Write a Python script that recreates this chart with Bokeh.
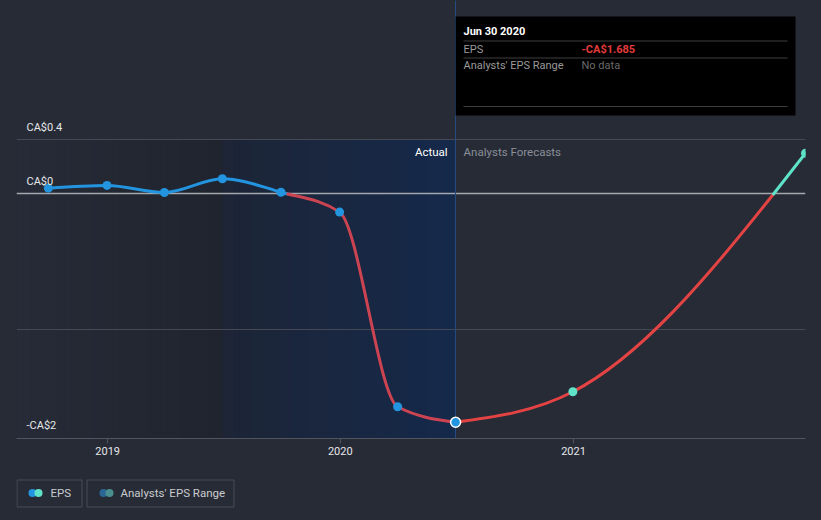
import numpy as np
import pandas as pd
from bokeh.plotting import figure
from bokeh.layouts import column
from bokeh.models import ColumnDataSource, FixedTicker, DatetimeTickFormatter, Range1d
from bokeh.core.properties import value
from bokeh.embed import file_html
from bokeh.resources import INLINE

# ---------------- data ----------------
actual_dates = ["2018-09-30", "2018-12-31", "2019-03-31", "2019-06-30",
                "2019-09-30", "2019-12-31", "2020-03-31", "2020-06-30"]
actual_eps = [0.043, 0.063, 0.011, 0.112, 0.013, -0.134, -1.571, -1.685]

forecast_dates = ["2020-06-30", "2020-12-31", "2021-12-31"]
forecast_eps = [-1.685, -1.460, 0.301]

y_label_values = [0.4, 0.0, -1.8]
y_label_texts = ["CA$0.4", "CA$0", "-CA$2"]
y_grid_values = [0.4, -1.0]

x_tick_dates = ["2019-01-01", "2020-01-01", "2021-01-01"]

tooltip_date = "Jun 30 2020"
tooltip_eps = "-CA$1.685"
legend_labels = ["EPS", "Analysts' EPS Range"]

# ---------------- style ----------------
BG = "#272b36"
BLUE = "#2394df"
TEAL = "#5fe3c8"
RED_PAST = "#cc4452"
RED_FC = "#e44343"
FONT = value("Roboto")


def to_ms(d):
    return pd.Timestamp(d).value / 1e6


X0, X1 = to_ms("2018-08-11"), to_ms("2021-12-31")
Y0, Y1 = -1.805, 1.428
FRAME_W, FRAME_H, LEFT = 789, 438, 16


def px_x(px):
    return X0 + (px - LEFT) / FRAME_W * (X1 - X0)


def px_y(py):
    return Y1 - py / FRAME_H * (Y1 - Y0)


def lerp_color(c1, c2, f):
    a = [int(c1[i:i + 2], 16) for i in (1, 3, 5)]
    b = [int(c2[i:i + 2], 16) for i in (1, 3, 5)]
    return "#%02x%02x%02x" % tuple(int(round(a[k] + (b[k] - a[k]) * f)) for k in range(3))


def strips(xa, xb, c1, c2, n):
    # overlapping strips (each reaches the region end) drawn left to right: no seams
    edges = np.linspace(xa, xb, n + 1)
    cols = [lerp_color(c1, c2, (i + 0.5) / n) for i in range(n)]
    return list(edges[:-1]), [xb] * n, cols


def monotone_segments(xs, ys):
    xs = np.asarray(xs, float)
    ys = np.asarray(ys, float)
    n = len(xs)
    h = np.diff(xs)
    s = np.diff(ys) / h
    t = np.zeros(n)
    for i in range(1, n - 1):
        p_ = (s[i - 1] * h[i] + s[i] * h[i - 1]) / (h[i - 1] + h[i])
        t[i] = (np.sign(s[i - 1]) + np.sign(s[i])) * min(abs(s[i - 1]), abs(s[i]), 0.5 * abs(p_))
    t[0] = (3 * s[0] - t[1]) / 2
    t[-1] = (3 * s[-1] - t[-2]) / 2
    segs = []
    for i in range(n - 1):
        dx = h[i] / 3
        segs.append([(xs[i], ys[i]), (xs[i] + dx, ys[i] + dx * t[i]),
                     (xs[i + 1] - dx, ys[i + 1] - dx * t[i + 1]), (xs[i + 1], ys[i + 1])])
    return segs


def bez_y(P, t):
    return ((1 - t) ** 3 * P[0][1] + 3 * (1 - t) ** 2 * t * P[1][1]
            + 3 * (1 - t) * t ** 2 * P[2][1] + t ** 3 * P[3][1])


def split(P, t):
    def lerp(a, b):
        return (a[0] + (b[0] - a[0]) * t, a[1] + (b[1] - a[1]) * t)
    p01, p12, p23 = lerp(P[0], P[1]), lerp(P[1], P[2]), lerp(P[2], P[3])
    p012, p123 = lerp(p01, p12), lerp(p12, p23)
    m = lerp(p012, p123)
    return [P[0], p01, p012, m], [m, p123, p23, P[3]]


def split_at_zero(P):
    ts = np.linspace(0, 1, 401)
    ys = [bez_y(P, t) for t in ts]
    roots = []
    for k in range(400):
        if ys[k] * ys[k + 1] < 0:
            lo, hi = ts[k], ts[k + 1]
            for _ in range(60):
                mid = (lo + hi) / 2
                if bez_y(P, lo) * bez_y(P, mid) <= 0:
                    hi = mid
                else:
                    lo = mid
            roots.append((lo + hi) / 2)
    pieces, rest, prev = [], P, 0.0
    for r in roots:
        u = (r - prev) / (1 - prev)
        a, rest = split(rest, u)
        pieces.append(a)
        prev = r
    pieces.append(rest)
    return pieces


def bezier_source(xs, ys, pos_color, neg_color):
    d = dict(x0=[], y0=[], x1=[], y1=[], cx0=[], cy0=[], cx1=[], cy1=[], color=[])
    for seg in monotone_segments(xs, ys):
        for pc in split_at_zero(seg):
            d["x0"].append(pc[0][0]); d["y0"].append(pc[0][1])
            d["cx0"].append(pc[1][0]); d["cy0"].append(pc[1][1])
            d["cx1"].append(pc[2][0]); d["cy1"].append(pc[2][1])
            d["x1"].append(pc[3][0]); d["y1"].append(pc[3][1])
            d["color"].append(pos_color if bez_y(pc, 0.5) >= 0 else neg_color)
    return ColumnDataSource(d)


ax = [to_ms(d) for d in actual_dates]
fx = [to_ms(d) for d in forecast_dates]
split_past = to_ms("2019-06-30")
now = to_ms("2020-06-30")

# ---------------- main figure ----------------
p = figure(width=821, height=470, x_axis_type="datetime", y_axis_location=None,
           x_range=Range1d(X0, X1), y_range=Range1d(Y0, Y1),
           output_backend="svg", toolbar_location=None,
           min_border_left=16, min_border_right=16, min_border_top=0, min_border_bottom=32,
           background_fill_color=None, border_fill_color=None, outline_line_color=None)
p.grid.visible = False

# shaded regions (horizontal gradients approximated by strips)
l1, r1, c1 = strips(X0, split_past, "#262b37", "#20242e", 30)
p.quad(left=l1, right=r1, top=0.4, bottom=Y0, fill_color=c1, line_color=None)
l2, r2, c2 = strips(split_past, now, "#1d2536", "#15294b", 40)
p.quad(left=l2, right=r2, top=0.4, bottom=Y0, fill_color=c2, line_color=None)

# grid lines, zero line, "now" line
p.hspan(y=y_grid_values, line_color="#444955", line_width=1)
p.hspan(y=[0.0], line_color="#a4a7ad", line_width=1.5)
p.vspan(x=[now], line_color="#244a80", line_width=1)

# lines
p.bezier(x0="x0", y0="y0", x1="x1", y1="y1", cx0="cx0", cy0="cy0", cx1="cx1", cy1="cy1",
         line_color="color", line_width=3, line_cap="round",
         source=bezier_source(ax, actual_eps, BLUE, RED_PAST))
p.bezier(x0="x0", y0="y0", x1="x1", y1="y1", cx0="cx0", cy0="cy0", cx1="cx1", cy1="cy1",
         line_color="color", line_width=3, line_cap="round",
         source=bezier_source(fx, forecast_eps, TEAL, RED_FC))

# markers
p.scatter(x=fx[1:], y=forecast_eps[1:], size=9, fill_color=TEAL, line_color=None)
p.scatter(x=ax[:-1], y=actual_eps[:-1], size=9, fill_color=BLUE, line_color=None)
p.scatter(x=ax[-1:], y=actual_eps[-1:], size=10, fill_color=BLUE, line_color="white", line_width=1.5)

# y labels
p.text(x=[X0] * len(y_label_values), y=y_label_values, text=y_label_texts,
       x_offset=10, y_offset=-12, text_align="left", text_baseline="middle",
       text_font=FONT, text_font_size="11px", text_color="#e6e7e9")

# Actual / Analysts Forecasts
p.text(x=[now], y=[0.4], text=["Actual"], x_offset=-8, y_offset=12,
       text_align="right", text_baseline="middle", text_font=FONT,
       text_font_size="11.5px", text_color="#ffffff")
p.text(x=[now], y=[0.4], text=["Analysts Forecasts"], x_offset=8, y_offset=12,
       text_align="left", text_baseline="middle", text_font=FONT,
       text_font_size="11.5px", text_color="#8a8f98")

# tooltip box
p.quad(left=[now], right=[px_x(795)], top=[px_y(16)], bottom=[px_y(115)],
       fill_color="#000000", line_color=None)
p.segment(x0=[px_x(463)] * 3, x1=[px_x(787)] * 3,
          y0=[px_y(40.5), px_y(57.5), px_y(106)], y1=[px_y(40.5), px_y(57.5), px_y(106)],
          line_color="#3e3e3e", line_width=1)
p.text(x=[px_x(463)], y=[px_y(31)], text=[tooltip_date], text_baseline="middle",
       text_font=FONT, text_font_size="11px", text_font_style="bold", text_color="#ffffff")
p.text(x=[px_x(463), px_x(463)], y=[px_y(48.5), px_y(65)], text=["EPS", "Analysts' EPS Range"],
       text_baseline="middle", text_font=FONT, text_font_size="11px", text_color="#9a9a9a")
p.text(x=[px_x(581)], y=[px_y(48.5)], text=[tooltip_eps], text_baseline="middle",
       text_font=FONT, text_font_size="11px", text_font_style="bold", text_color="#e23b3b")
p.text(x=[px_x(581)], y=[px_y(65)], text=["No data"], text_baseline="middle",
       text_font=FONT, text_font_size="11px", text_color="#6a6a6a")

# x axis
xa = p.xaxis[0]
xa.ticker = FixedTicker(ticks=[to_ms(d) for d in x_tick_dates])
xa.formatter = DatetimeTickFormatter(years="%Y", months="%Y", days="%Y", hours="%Y",
                                     minutes="%Y", seconds="%Y", milliseconds="%Y",
                                     microseconds="%Y", minsec="%Y", hourmin="%Y")
xa.axis_line_color = "#50555f"
xa.major_tick_line_color = "#50555f"
xa.major_tick_out = 5
xa.major_tick_in = 0
xa.minor_tick_line_color = None
xa.major_label_standoff = 3
xa.major_label_text_color = "#e6e7e9"
xa.major_label_text_font = "Roboto"
xa.major_label_text_font_size = "11px"

# ---------------- legend strip (frame aligned with main frame: 16..805 px) ----------------
lg = figure(width=821, height=50, x_range=Range1d(16, 805), y_range=Range1d(50, 0),
            x_axis_location=None, y_axis_location=None,
            min_border_left=16, min_border_right=16, min_border_top=0, min_border_bottom=0,
            output_backend="svg", toolbar_location=None,
            background_fill_color=None, border_fill_color=None, outline_line_color=None)
lg.grid.visible = False
lg.quad(left=[16.5, 86.5], right=[81.5, 233.5], top=[9.5, 9.5], bottom=[36.5, 36.5],
        fill_color=None, line_color="#474c57", line_width=1)
lg.scatter(x=[32, 38], y=[22.5, 22.5], size=8, fill_color=[BLUE, TEAL], line_color=None)
lg.scatter(x=[103, 109], y=[22.5, 22.5], size=8, fill_color=["#2a6794", "#4a8f8f"], line_color=None)
lg.text(x=[50, 120], y=[22.5, 22.5], text=legend_labels, text_baseline="middle",
        text_font=FONT, text_font_size="11.5px", text_color="#c9cbcf")

layout = column(p, lg, spacing=0)
html = file_html(layout, INLINE)

# page background = chart background
style = "<style>html, body { margin: 0; padding: 0; background: %s; }</style>" % BG
i = html.rfind("</head>")
if i >= 0:
    html = html[:i] + style + html[i:]
j = html.rfind("<body")
if j >= 0:
    k = html.find(">", j)
    html = html[:j] + '<body style="margin:0;background:%s;">' % BG + html[k + 1:]
open("out.html", "w").write(html)
